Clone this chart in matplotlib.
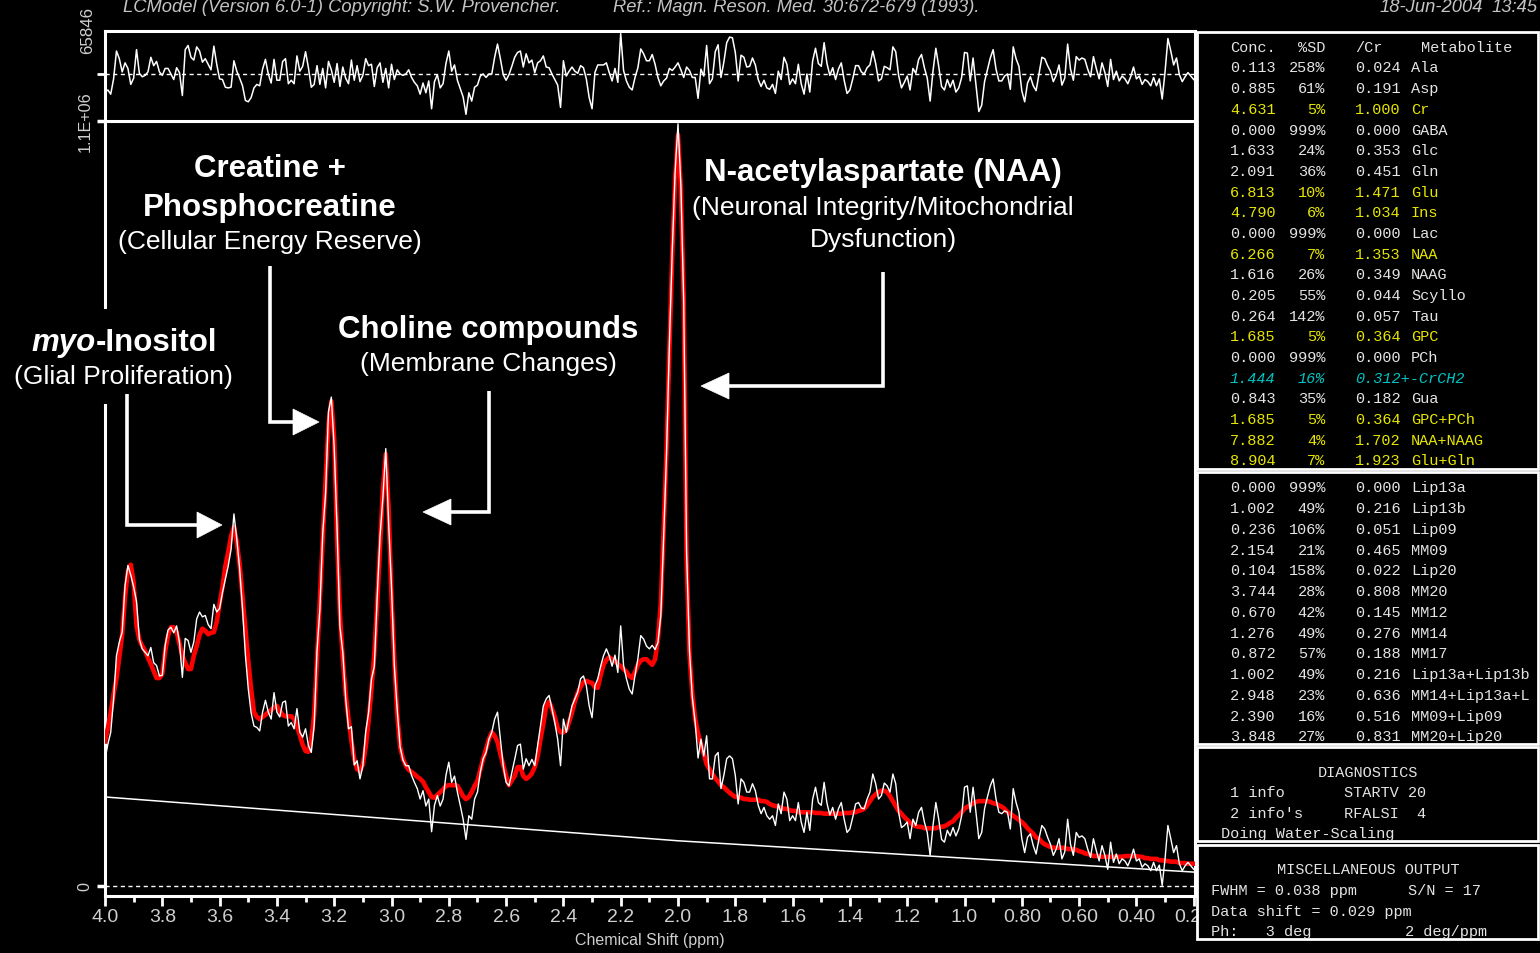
import numpy as np
import matplotlib
matplotlib.use('Agg')
import matplotlib.pyplot as plt
from matplotlib.patches import Rectangle, Polygon

plt.rcParams['font.family'] = ['Liberation Sans', 'DejaVu Sans']

# chemical shift grid, 4.00 -> 0.20 ppm in 0.01 ppm steps
ppm = np.arange(400, 19, -1) / 100.0

# LCModel fit (red), thousands of counts; one row per 0.1 ppm
fit_k = np.array([
    208, 227, 250, 276, 298, 329, 362, 416, 453, 462,
    436, 374, 354, 345, 338, 328, 319, 309, 299, 299,
    305, 338, 360, 372, 372, 365, 348, 331, 321, 312,
    312, 331, 345, 361, 370, 367, 362, 364, 365, 380,
    406, 430, 460, 480, 503, 516, 495, 462, 416, 370,
    324, 283, 250, 243, 240, 243, 246, 250, 253, 257,
    259, 252, 246, 244, 244, 244, 240, 229, 217, 203,
    194, 193, 211, 246, 326, 413, 499, 585, 664, 697,
    643, 499, 391, 326, 276, 240, 209, 183, 168, 165,
    175, 200, 237, 283, 334, 406, 487, 571, 621, 542,
    416, 324, 247, 200, 183, 173, 167, 164, 161, 157,
    154, 150, 142, 135, 128, 127, 131, 135, 139, 144,
    145, 145, 145, 144, 137, 129, 125, 128, 135, 144,
    151, 167, 183, 197, 211, 221, 216, 207, 190, 174,
    158, 145, 152, 158, 171, 171, 158, 154, 157, 162,
    171, 186, 211, 233, 259, 265, 255, 243, 227, 221,
    221, 224, 236, 249, 265, 278, 286, 293, 295, 293,
    292, 286, 285, 303, 318, 325, 329, 326, 324, 319,
    316, 312, 308, 302, 299, 308, 318, 324, 326, 326,
    322, 318, 326, 355, 406, 513, 628, 772, 909, 1017,
    1080, 1002, 844, 470, 334, 276, 240, 219, 204, 190,
    175, 168, 161, 155, 150, 145, 142, 138, 134, 131,
    128, 128, 127, 125, 125, 124, 124, 124, 124, 122,
    122, 121, 118, 116, 115, 114, 112, 111, 111, 109,
    108, 108, 106, 106, 106, 106, 106, 106, 105, 105,
    105, 104, 104, 104, 104, 104, 104, 104, 105, 105,
    105, 106, 106, 108, 109, 111, 116, 122, 128, 132,
    135, 137, 137, 135, 129, 122, 115, 108, 104, 99,
    95, 91, 88, 86, 85, 85, 83, 83, 83, 83,
    83, 85, 85, 86, 88, 91, 93, 98, 102, 106,
    111, 114, 116, 119, 121, 122, 122, 122, 122, 121,
    119, 118, 116, 114, 111, 106, 104, 101, 98, 95,
    92, 88, 83, 79, 75, 70, 68, 63, 60, 58,
    56, 55, 55, 55, 55, 55, 53, 53, 53, 52,
    50, 49, 47, 46, 45, 43, 43, 43, 42, 42,
    42, 42, 42, 42, 42, 42, 43, 43, 43, 43,
    43, 42, 42, 40, 40, 39, 39, 39, 37, 37,
    36, 36, 35, 35, 35, 33, 33, 33, 32, 32,
    32,
])

# residuals (data - fit), thousands of counts, same grid
resid_k = np.array([
    -26, -23, -29, -7, 33, 22, 3, 16, 8, -15,
    -6, 35, 1, -4, -2, 3, 24, 12, 18, 3,
    -2, 8, 8, 0, -8, 9, 2, -31, 35, 41,
    24, 20, 39, 33, 17, 22, 14, 6, 40, 14,
    -7, -8, -19, -20, -19, 19, 4, -6, -17, -38,
    -40, -34, -20, -15, -17, 7, 21, 0, -13, 21,
    -9, -9, 18, 22, -14, -9, -14, 26, 4, 11,
    32, 9, -19, -15, 12, -15, 8, -20, 18, 6,
    -12, 15, -18, 10, -6, -14, 20, -9, 12, -11,
    -2, 22, 12, 14, -18, 9, 16, -12, 8, -20,
    14, -8, 6, 0, -2, 0, 6, -5, -12, -17,
    -29, -13, -27, -10, -50, -11, -1, -20, -14, 15,
    33, 4, 13, -9, -21, -33, -58, -27, -39, -19,
    -16, -3, 0, -5, 0, 0, 24, 43, 22, -1,
    -9, -1, 11, 24, 31, 33, 10, 29, 16, 20,
    2, 16, 19, 26, 10, 9, 0, -8, -16, -48,
    19, -3, 4, 10, 4, 1, 12, 9, -7, -34,
    -50, 2, 13, 13, 13, 16, 2, -10, 8, -12,
    58, 5, -10, -19, -23, -5, 9, 36, 29, 19,
    19, 28, 14, -5, -17, -10, -6, 8, 5, 10,
    16, 6, -5, 10, 5, -5, -5, -35, 7, -3,
    41, -14, -7, 32, 42, -5, 17, 45, 53, 52,
    31, -10, 27, 24, 10, 11, 23, 13, -8, -18,
    -9, -20, -22, -15, -28, 4, -8, 24, 14, -15,
    -7, -14, 14, -14, -29, 0, -26, 19, 37, 15,
    11, 45, 15, -2, 9, -8, 7, 16, -9, -28,
    -23, -7, 12, 12, 3, 0, 9, 13, 33, 15,
    -10, -7, 11, 9, 6, 39, 32, -2, -20, -12,
    -3, -23, 8, 1, 21, 28, 9, -6, -39, 4,
    37, 11, -18, -23, -8, -19, -9, -26, -20, -5,
    31, 30, -10, 23, -15, -54, -45, -11, 6, 23,
    35, 7, -10, -10, -3, 0, -22, 39, 22, 11,
    -24, -40, -13, -4, -17, -24, 0, 24, 22, 12,
    4, -11, -2, 13, -16, -6, 43, 7, -9, 25,
    20, 23, 21, 7, -4, 25, 8, -7, 16, 2,
    -18, 21, -8, 4, -10, -3, -7, -14, -4, 10,
    -7, -3, -15, -8, -11, -17, -5, -17, -7, -36,
    3, 51, 33, 13, 23, -1, -11, -4, 2, -3,
    -8,
])
data_k = fit_k + resid_k

baseline_ppm = [4.0, 2.0, 0.2]
baseline_k = [128, 65, 20]

xtick_vals = [4.0, 3.8, 3.6, 3.4, 3.2, 3.0, 2.8, 2.6, 2.4, 2.2, 2.0,
              1.8, 1.6, 1.4, 1.2, 1.0, 0.8, 0.6, 0.4, 0.2]
xtick_labels = ['4.0', '3.8', '3.6', '3.4', '3.2', '3.0', '2.8', '2.6', '2.4', '2.2', '2.0',
                '1.8', '1.6', '1.4', '1.2', '1.0', '0.80', '0.60', '0.40', '0.20']

# concentration table
met_conc = [0.113, 0.885, 4.631, 0.000, 1.633, 2.091, 6.813, 4.790, 0.000, 6.266,
            1.616, 0.205, 0.264, 1.685, 0.000, 1.444, 0.843, 1.685, 7.882, 8.904]
met_sd = [258, 61, 5, 999, 24, 36, 10, 6, 999, 7, 26, 55, 142, 5, 999, 16, 35, 5, 4, 7]
met_ratio = [0.024, 0.191, 1.000, 0.000, 0.353, 0.451, 1.471, 1.034, 0.000, 1.353,
             0.349, 0.044, 0.057, 0.364, 0.000, 0.312, 0.182, 0.364, 1.702, 1.923]
met_name = ['Ala', 'Asp', 'Cr', 'GABA', 'Glc', 'Gln', 'Glu', 'Ins', 'Lac', 'NAA',
            'NAAG', 'Scyllo', 'Tau', 'GPC', 'PCh', '+-CrCH2', 'Gua', 'GPC+PCh', 'NAA+NAAG', 'Glu+Gln']
met_kind = ['w', 'w', 'y', 'w', 'w', 'w', 'y', 'y', 'w', 'y',
            'w', 'w', 'w', 'y', 'w', 'c', 'w', 'y', 'y', 'y']

lip_conc = [0.000, 1.002, 0.236, 2.154, 0.104, 3.744, 0.670, 1.276, 0.872, 1.002, 2.948, 2.390, 3.848]
lip_sd = [999, 49, 106, 21, 158, 28, 42, 49, 57, 49, 23, 16, 27]
lip_ratio = [0.000, 0.216, 0.051, 0.465, 0.022, 0.808, 0.145, 0.276, 0.188, 0.216, 0.636, 0.516, 0.831]
lip_name = ['Lip13a', 'Lip13b', 'Lip09', 'MM09', 'Lip20', 'MM20', 'MM12', 'MM14', 'MM17',
            'Lip13a+Lip13b', 'MM14+Lip13a+L', 'MM09+Lip09', 'MM20+Lip20']

W, H = 1540, 954
fig = plt.figure(figsize=(W / 100, H / 100), dpi=100, facecolor='black')


def fx(px):
    return px / W


def fy(py):
    return 1 - py / H


gray = '#cfcfcf'
ax = fig.add_axes([fx(105), fy(897), 1090 / W, 775 / H])
axr = fig.add_axes([fx(105), fy(122), 1090 / W, 90 / H])
xlim = (4.0, 4.0 - 1090 / 286.5)

for a in (ax, axr):
    a.set_facecolor('black')
    a.set_xlim(*xlim)
    for s in a.spines.values():
        s.set_color('white')
        s.set_linewidth(2.2)

# main spectrum
ax.plot(baseline_ppm, baseline_k, color='white', lw=1.1, zorder=2)
ax.axhline(0, color='white', lw=1.0, ls=(0, (3, 2.5)), zorder=1)
ax.plot(ppm, fit_k, color='#ff0000', lw=3.3, zorder=3, solid_joinstyle='round')
ax.plot(ppm, data_k, color='white', lw=1.0, zorder=4)
ax.set_ylim(-14.4, 1100)
ax.set_xticks(xtick_vals)
ax.set_xticklabels(xtick_labels)
ax.set_xticks(np.arange(3.9, 0.2, -0.2), minor=True)
ax.tick_params(axis='x', which='major', direction='out', length=7, width=2, color='white',
               labelcolor=gray, labelsize=14, pad=2)
ax.tick_params(axis='x', which='minor', direction='out', length=4, width=2, color='white')
ax.set_yticks([0, 1100])
ax.set_yticklabels(['0', '1.1E+06'], rotation=90, va='center')
ax.tick_params(axis='y', direction='out', length=6, width=2.5, color='white',
               labelcolor=gray, labelsize=11.6, pad=3)
ax.set_xlabel('Chemical Shift (ppm)', color=gray, fontsize=11.5, labelpad=5)

# residual panel
axr.plot(ppm, resid_k, color='white', lw=1.1)
axr.axhline(0, color='white', lw=1.0, ls=(0, (3, 2.5)))
axr.set_ylim(-67.6, 61.8)
axr.set_xticks([])
axr.set_yticks([0])
axr.set_yticklabels([''])
axr.tick_params(axis='y', direction='out', length=6, width=2, color='white')

# overlay in pixel coordinates for header, notes and tables
ov = fig.add_axes([0, 0, 1, 1], zorder=10)
ov.set_xlim(0, W)
ov.set_ylim(H, 0)
ov.axis('off')

ov.text(88, 30, '65846', rotation=90, ha='center', va='center', color=gray, fontsize=12.2)

hdr = dict(color='#c4c4c4', fontsize=13.2, style='italic', va='baseline')
ov.text(123, 12, 'LCModel (Version 6.0-1) Copyright: S.W. Provencher.', **hdr)
ov.text(613, 12, 'Ref.: Magn. Reson. Med. 30:672-679 (1993).', **hdr)
ov.text(1380, 12, '18-Jun-2004', **hdr)
ov.text(1538, 12, '13:45', ha='right', **hdr)

# annotation callouts
ov.add_patch(Rectangle((10, 310), 226, 95, facecolor='black', edgecolor='none', zorder=2))
bold = dict(color='white', fontsize=22.5, fontweight='bold', ha='center', va='center', zorder=4)
reg = dict(color='white', fontsize=19, ha='center', va='center', zorder=4)
ov.text(270, 169, 'Creatine +', **bold)
ov.text(270, 208, 'Phosphocreatine', **bold)
ov.text(270, 242, '(Cellular Energy Reserve)', **reg)
ov.text(96, 343, 'myo', color='white', fontsize=22.5, fontweight='bold', style='italic',
        ha='right', va='center', zorder=4)
ov.text(96, 343, '-Inositol', color='white', fontsize=22.5, fontweight='bold',
        ha='left', va='center', zorder=4)
ov.text(123, 377, '(Glial Proliferation)', **reg)
ov.text(488, 330, 'Choline compounds', **bold)
ov.text(488, 364, '(Membrane Changes)', **reg)
ov.text(883, 173, 'N-acetylaspartate (NAA)', **bold)
ov.text(883, 208, '(Neuronal Integrity/Mitochondrial', **reg)
ov.text(883, 240, 'Dysfunction)', **reg)

arrows = [
    ([270, 270, 296], [267, 423, 423], [(293, 410), (319, 423), (293, 436)]),
    ([127, 127, 200], [395, 526, 526], [(197, 513), (222, 526), (197, 539)]),
    ([489, 489, 448], [392, 513, 513], [(451, 500), (423, 513), (451, 526)]),
    ([883, 883, 727], [273, 387, 387], [(729, 374), (701, 387), (729, 400)]),
]
for xs, ys, head in arrows:
    ov.plot(xs, ys, color='white', lw=2.6, solid_joinstyle='miter', solid_capstyle='butt', zorder=4)
    ov.add_patch(Polygon(head, closed=True, facecolor='white', edgecolor='white', lw=0.5, zorder=4))

# result boxes
for top, bot in [(33, 470), (473, 745), (748, 842), (846, 940)]:
    ov.add_patch(Rectangle((1197, top), 341, bot - top, facecolor='black',
                           edgecolor='white', lw=2, zorder=1))

mono = ['Liberation Mono', 'DejaVu Sans Mono']
colors = {'w': '#e4e4e4', 'y': '#e6e600', 'c': '#00c4c4'}
tx = dict(family=mono, fontsize=11, va='baseline', zorder=3)

ov.text(1230, 52, 'Conc.', color=colors['w'], **tx)
ov.text(1325, 52, '%SD', color=colors['w'], ha='right', **tx)
ov.text(1355, 52, '/Cr', color=colors['w'], **tx)
ov.text(1421, 52, 'Metabolite', color=colors['w'], **tx)

for i in range(len(met_name)):
    yb = 72.5 + i * 20.68
    c = colors[met_kind[i]]
    st = 'italic' if met_kind[i] == 'c' else 'normal'
    ov.text(1230, yb, '%.3f' % met_conc[i], color=c, style=st, **tx)
    ov.text(1325, yb, '%d%%' % met_sd[i], color=c, style=st, ha='right', **tx)
    if met_kind[i] == 'c':
        ov.text(1355, yb, '%.3f%s' % (met_ratio[i], met_name[i]), color=c, style=st, **tx)
    else:
        ov.text(1355, yb, '%.3f' % met_ratio[i], color=c, **tx)
        ov.text(1411, yb, met_name[i], color=c, **tx)

for i in range(len(lip_name)):
    yb = 492.5 + i * 20.75
    c = colors['w']
    ov.text(1230, yb, '%.3f' % lip_conc[i], color=c, **tx)
    ov.text(1325, yb, '%d%%' % lip_sd[i], color=c, ha='right', **tx)
    ov.text(1355, yb, '%.3f' % lip_ratio[i], color=c, **tx)
    ov.text(1411, yb, lip_name[i], color=c, **tx)

c = colors['w']
ov.text(1368, 777, 'DIAGNOSTICS', color=c, ha='center', **tx)
ov.text(1230, 797, '1 info', color=c, **tx)
ov.text(1344, 797, 'STARTV 20', color=c, **tx)
ov.text(1230, 818, "2 info's", color=c, **tx)
ov.text(1344, 818, 'RFALSI  4', color=c, **tx)
ov.text(1221, 838, 'Doing Water-Scaling', color=c, **tx)

ov.text(1368, 874, 'MISCELLANEOUS OUTPUT', color=c, ha='center', **tx)
ov.text(1211, 895, 'FWHM = 0.038 ppm', color=c, **tx)
ov.text(1408, 895, 'S/N = 17', color=c, **tx)
ov.text(1211, 916, 'Data shift = 0.029 ppm', color=c, **tx)
ov.text(1211, 936, 'Ph:   3 deg', color=c, **tx)
ov.text(1405, 936, '2 deg/ppm', color=c, **tx)

fig.savefig('out.png', dpi=100, facecolor='black')
